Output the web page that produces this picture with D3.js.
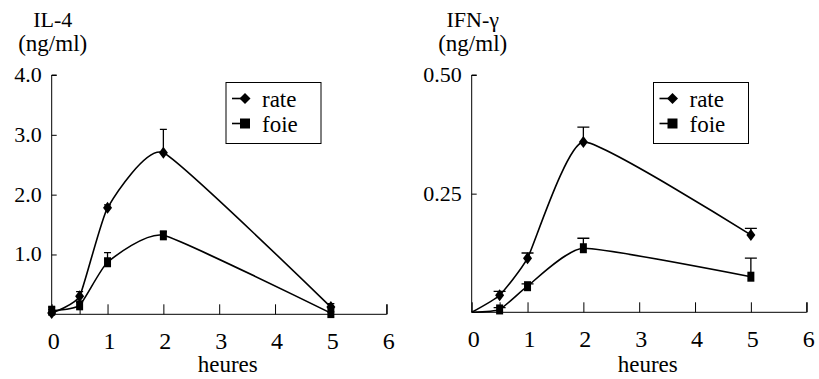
<!DOCTYPE html>
<html>
<head>
<meta charset="utf-8">
<script src="https://cdn.jsdelivr.net/npm/d3@7"></script>
</head>
<body style="margin:0">
<svg id="chart" width="819" height="379"></svg>
<script>
// ---- data ----
const hours = [0, 0.5, 1, 2, 5];
const xTicks = [0, 0.5, 1, 2, 3, 4, 5, 6];
const xTickLabels = [0, 1, 2, 3, 4, 5, 6];

// IL-4 (ng/ml)
const il4Rate = [0.02, 0.30, 1.78, 2.70, 0.12];
const il4RateErr = [0.06, 0.08, 0.05, 0.39, 0.06];
const il4Foie = [0.06, 0.15, 0.87, 1.32, 0.02];
const il4FoieErr = [0.06, 0.05, 0.16, 0.06, 0.02];
const il4YTicks = [1.0, 2.0, 3.0, 4.0];

// IFN-gamma (ng/ml)
const ifnRate = [0.0, 0.036, 0.114, 0.359, 0.163];
const ifnRateErr = [0.0, 0.008, 0.011, 0.031, 0.014];
const ifnFoie = [0.0, 0.006, 0.055, 0.135, 0.075];
const ifnFoieErr = [0.0, 0.004, 0.005, 0.021, 0.039];
const ifnYTicks = [0.25, 0.50];

const seriesNames = ["rate", "foie"];

const svg = d3.select("#chart");
svg.append("rect").attr("width", 819).attr("height", 379).attr("fill", "#fff");

function txt(size) {
  return svg.append("text").style("font-family", '"Liberation Serif"').attr("font-size", size).attr("fill", "#000");
}

function drawPanel(cfg) {
  const g = svg.append("g");
  const x = d3.scaleLinear().domain([0, 6]).range([cfg.x0, cfg.x0 + 335]);
  const y = d3.scaleLinear().domain([0, cfg.yMax]).range([cfg.y0, 75]);

  // y axis
  const yAxis = d3.axisLeft(y).tickValues(cfg.yTicks).tickSize(-5).tickFormat(() => "");
  const ya = g.append("g").attr("transform", `translate(${cfg.x0},0)`).call(yAxis);
  ya.select(".domain").attr("d", `M${5},${y(cfg.yMax)}H0V${cfg.y0}`);
  ya.selectAll("line, path").attr("stroke", "#000").attr("stroke-width", 1);

  cfg.yTicks.forEach(d => {
    txt(22).attr("x", cfg.x0 - 10).attr("y", y(d) + 7)
      .attr("text-anchor", "end")
      .text(cfg.yFmt(d));
  });

  // x axis
  const xAxis = d3.axisBottom(x).tickValues(xTicks).tickSize(-10).tickFormat(() => "");
  const xa = g.append("g").attr("transform", `translate(0,${cfg.y0})`).call(xAxis);
  xa.select(".domain").attr("d", `M${x(0)},0H${x(6)}V-10`);
  xa.selectAll("line, path").attr("stroke", "#000").attr("stroke-width", 1);

  xTickLabels.forEach(d => {
    txt(24).attr("x", x(d) + 2).attr("y", cfg.y0 + 35)
      .attr("text-anchor", "middle")
      .text(d);
  });

  txt(23).attr("x", x(0) + 176).attr("y", 372)
    .attr("text-anchor", "middle").text("heures");

  // titles
  txt(22).attr("x", cfg.x0 + 1).attr("y", 27)
    .attr("text-anchor", "middle").text(cfg.title);
  txt(23).attr("x", cfg.x0 + 1).attr("y", 51)
    .attr("text-anchor", "middle").text("(ng/ml)");

  const line = d3.line().x(d => x(d.x)).y(d => y(d.v)).curve(d3.curveCardinal.tension(0.55));

  cfg.series.forEach((s, i) => {
    const pts = hours.map((h, k) => ({ x: h, v: s.values[k], e: s.err[k] }));
    g.append("path").datum(pts).attr("d", line)
      .attr("fill", "none").attr("stroke", "#000").attr("stroke-width", 1.6);

    const mpts = pts.filter(d => cfg.markAtZero || d.x > 0);
    // error bars (upward)
    g.selectAll(null).data(mpts.filter(d => d.e > 0)).join("path")
      .attr("d", d => `M${x(d.x)},${y(d.v)}V${y(d.v + d.e)}M${x(d.x) - cfg.cap},${y(d.v + d.e)}H${x(d.x) + cfg.cap}`)
      .attr("stroke", "#000").attr("stroke-width", 1.3).attr("fill", "none");

    g.selectAll(null).data(mpts).join("path")
      .attr("transform", d => `translate(${x(d.x)},${y(d.v)})`)
      .attr("d", s.shape)
      .attr("fill", "#000");
  });

  // legend
  g.append("rect").attr("x", cfg.legX).attr("y", 82.5).attr("width", 95).attr("height", 61)
    .attr("fill", "#fff").attr("stroke", "#000").attr("stroke-width", 1);
  cfg.series.forEach((s, i) => {
    const ly = [98.5, 123.5][i];
    g.append("line").attr("x1", cfg.legX + 6).attr("x2", cfg.legX + 20).attr("y1", ly).attr("y2", ly)
      .attr("stroke", "#000").attr("stroke-width", 1.6);
    g.append("path").attr("transform", `translate(${cfg.legX + 19},${ly})`).attr("d", s.legShape).attr("fill", "#000");
    txt(23).attr("x", cfg.legX + 36).attr("y", ly + 8).text(seriesNames[i]);
  });
}

const diamond = "M0,-6L4.5,0L0,6L-4.5,0Z";
const square = "M-3.5,-5H3.5V5H-3.5Z";
const legDiamond = "M0,-5.5L5.5,0L0,5.5L-5.5,0Z";
const legSquare = "M-5,-5H5V5H-5Z";

drawPanel({
  x0: 51.7, y0: 314.3, yMax: 4, yTicks: il4YTicks, yFmt: d3.format(".1f"),
  title: "IL-4", cap: 3.5, legX: 226, markAtZero: true,
  series: [
    { values: il4Rate, err: il4RateErr, shape: diamond, legShape: legDiamond },
    { values: il4Foie, err: il4FoieErr, shape: square, legShape: legSquare }
  ]
});

drawPanel({
  x0: 471.7, y0: 312.3, yMax: 0.5, yTicks: ifnYTicks, yFmt: d3.format(".2f"),
  title: "IFN-\u03B3", cap: 6, legX: 653.5, markAtZero: false,
  series: [
    { values: ifnRate, err: ifnRateErr, shape: diamond, legShape: legDiamond },
    { values: ifnFoie, err: ifnFoieErr, shape: square, legShape: legSquare }
  ]
});
</script>
</body>
</html>
